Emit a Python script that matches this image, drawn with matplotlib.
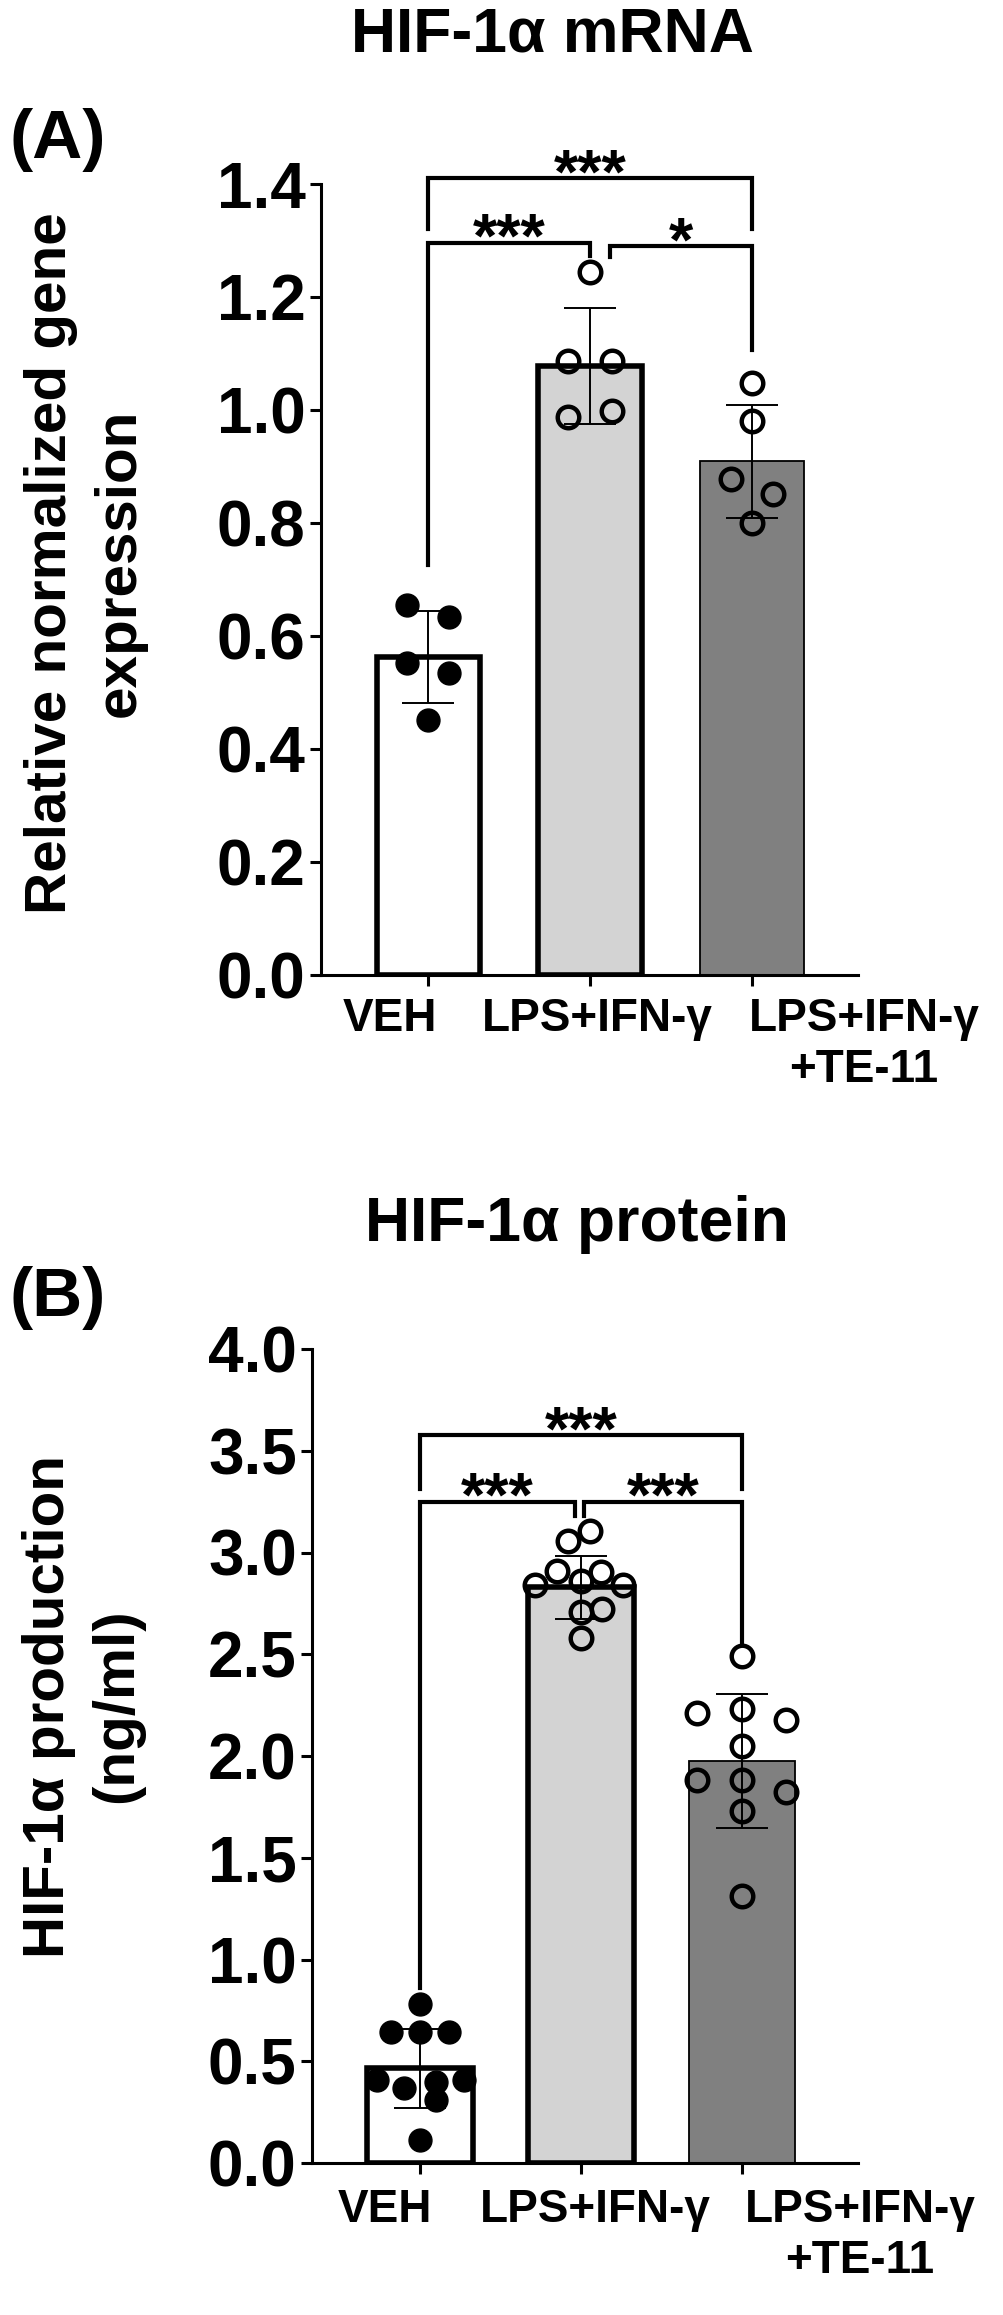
import matplotlib
matplotlib.use('Agg')
import matplotlib.pyplot as plt
import matplotlib.transforms as mtransforms
import numpy as np

plt.rcParams['font.family'] = ['Liberation Sans', 'DejaVu Sans']
plt.rcParams['font.weight'] = 'bold'

groups = ['VEH', 'LPS+IFN-γ', 'LPS+IFN-γ\n+TE-11']
bar_colors = ['white', '#d3d3d3', '#808080']
bar_edge_w = [4.0, 4.0, 1.3]

# (A) HIF-1a mRNA, relative normalized gene expression
mrna_mean = [0.563, 1.078, 0.909]
mrna_sd = [0.082, 0.102, 0.100]
mrna_veh = [0.654, 0.634, 0.553, 0.535, 0.451]
mrna_lps = [1.244, 1.087, 1.087, 0.999, 0.987]
mrna_te = [1.047, 0.981, 0.878, 0.851, 0.800]
mrna_jit = [[-0.13, 0.13, -0.13, 0.13, 0.0],
            [0.0, -0.135, 0.135, 0.135, -0.135],
            [0.0, 0.0, -0.13, 0.13, 0.0]]
# brackets: (x0, x1, y, leg end left, leg end right, stars)
mrna_brackets = [(0, 2, 1.41, 1.320, 1.320, '***'),
                 (0, 1, 1.296, 0.726, 1.272, '***'),
                 (1.12, 2, 1.290, 1.270, 1.106, '*')]

# (B) HIF-1a protein, ng/ml
prot_mean = [0.465, 2.83, 1.975]
prot_sd = [0.195, 0.155, 0.33]
prot_veh = [0.783, 0.642, 0.642, 0.642, 0.406, 0.368, 0.400, 0.406, 0.311, 0.113]
prot_lps = [3.107, 3.058, 2.910, 2.905, 2.860, 2.840, 2.840, 2.710, 2.720, 2.580]
prot_te = [2.49, 2.21, 2.23, 2.175, 2.05, 1.88, 1.88, 1.825, 1.73, 1.31]
prot_jit = [[0.0, -0.18, 0.0, 0.18, -0.27, -0.10, 0.10, 0.27, 0.10, 0.0],
            [0.055, -0.08, -0.15, 0.12, 0.0, -0.285, 0.26, 0.0, 0.13, 0.0],
            [0.0, -0.28, 0.0, 0.275, 0.0, -0.28, 0.0, 0.275, 0.0, 0.0]]
prot_brackets = [(0, 2, 3.575, 3.31, 3.31, '***'),
                 (0, 0.96, 3.25, 0.86, 3.18, '***'),
                 (1.02, 2, 3.25, 3.18, 2.56, '***')]

W, H = 1004, 2315
fig = plt.figure(figsize=(W / 100, H / 100), dpi=100)


def px_rect(left, top, right, bottom):
    return [left / W, 1 - bottom / H, (right - left) / W, (bottom - top) / H]


def draw_panel(ax, means, sds, pts, jit, brackets, ymax, ystep, barw, xlim,
               lab_dx, xpad):
    x = np.arange(len(groups))
    ax.bar(x, means, width=barw, color=bar_colors, edgecolor='black',
           linewidth=bar_edge_w, zorder=1)
    for i, vals in enumerate(pts):
        xs = x[i] + np.array(jit[i])
        if i == 0:
            ax.plot(xs, vals, 'o', ms=16.5, mfc='black', mec='black', mew=1,
                    zorder=3, clip_on=False)
        else:
            ax.plot(xs, vals, 'o', ms=15.5, mfc='none', mec='black', mew=3.2,
                    zorder=3, clip_on=False)
    ax.errorbar(x, means, yerr=sds, fmt='none', ecolor='black', elinewidth=1.4,
                capsize=19, capthick=1.4, zorder=4)
    for x0, x1, y, yl, yr, txt in brackets:
        ax.plot([x0, x0, x1, x1], [yl, y, y, yr], color='black', lw=3,
                solid_joinstyle='miter', clip_on=False, zorder=5)
        ax.annotate(txt, xy=((x0 + x1) / 2, y), xytext=(0, -10),
                    textcoords='offset points', ha='center', va='baseline',
                    fontsize=45, annotation_clip=False)
    ax.set_xlim(*xlim)
    ax.set_ylim(0, ymax)
    ax.set_yticks(np.arange(0, ymax + 1e-9, ystep))
    ax.set_yticklabels([f'{v:.1f}' for v in np.arange(0, ymax + 1e-9, ystep)])
    ax.set_xticks(x)
    ax.set_xticklabels(groups)
    for sp in ['top', 'right']:
        ax.spines[sp].set_visible(False)
    for sp in ['left', 'bottom']:
        ax.spines[sp].set_linewidth(2.2)
    ax.tick_params(axis='y', length=8, width=2.2, labelsize=46, pad=3)
    ax.tick_params(axis='x', length=8, width=2.2, labelsize=33, pad=xpad)
    for lab, dx in zip(ax.get_xticklabels(), lab_dx):
        lab.set_transform(lab.get_transform() +
                          mtransforms.ScaledTranslation(dx / 100, 0, fig.dpi_scale_trans))


axA = fig.add_axes(px_rect(321, 184, 858, 975))
draw_panel(axA, mrna_mean, mrna_sd, [mrna_veh, mrna_lps, mrna_te], mrna_jit,
           mrna_brackets, 1.4, 0.2, 0.64, (-0.663, 2.654), [-38, 7, 112], 8)

axB = fig.add_axes(px_rect(312, 1349, 858, 2163))
draw_panel(axB, prot_mean, prot_sd, [prot_veh, prot_lps, prot_te], prot_jit,
           prot_brackets, 4.0, 0.5, 0.66, (-0.673, 2.72), [-35, 14, 118], 10)

fig.text(552 / W, 1 - 35 / H, 'HIF-1α mRNA', ha='center', va='center', fontsize=45)
fig.text(10 / W, 1 - 140 / H, '(A)', ha='left', va='center', fontsize=50)
fig.text(85 / W, 1 - 563 / H, 'Relative normalized gene\nexpression', ha='center',
         va='center', rotation=90, fontsize=42, linespacing=1.35)

fig.text(577 / W, 1 - 1224 / H, 'HIF-1α protein', ha='center', va='center', fontsize=45)
fig.text(10 / W, 1 - 1298 / H, '(B)', ha='left', va='center', fontsize=50)
fig.text(83 / W, 1 - 1706 / H, 'HIF-1α production\n(ng/ml)', ha='center',
         va='center', rotation=90, fontsize=42, linespacing=1.35)

fig.savefig('out.png', dpi=100)
